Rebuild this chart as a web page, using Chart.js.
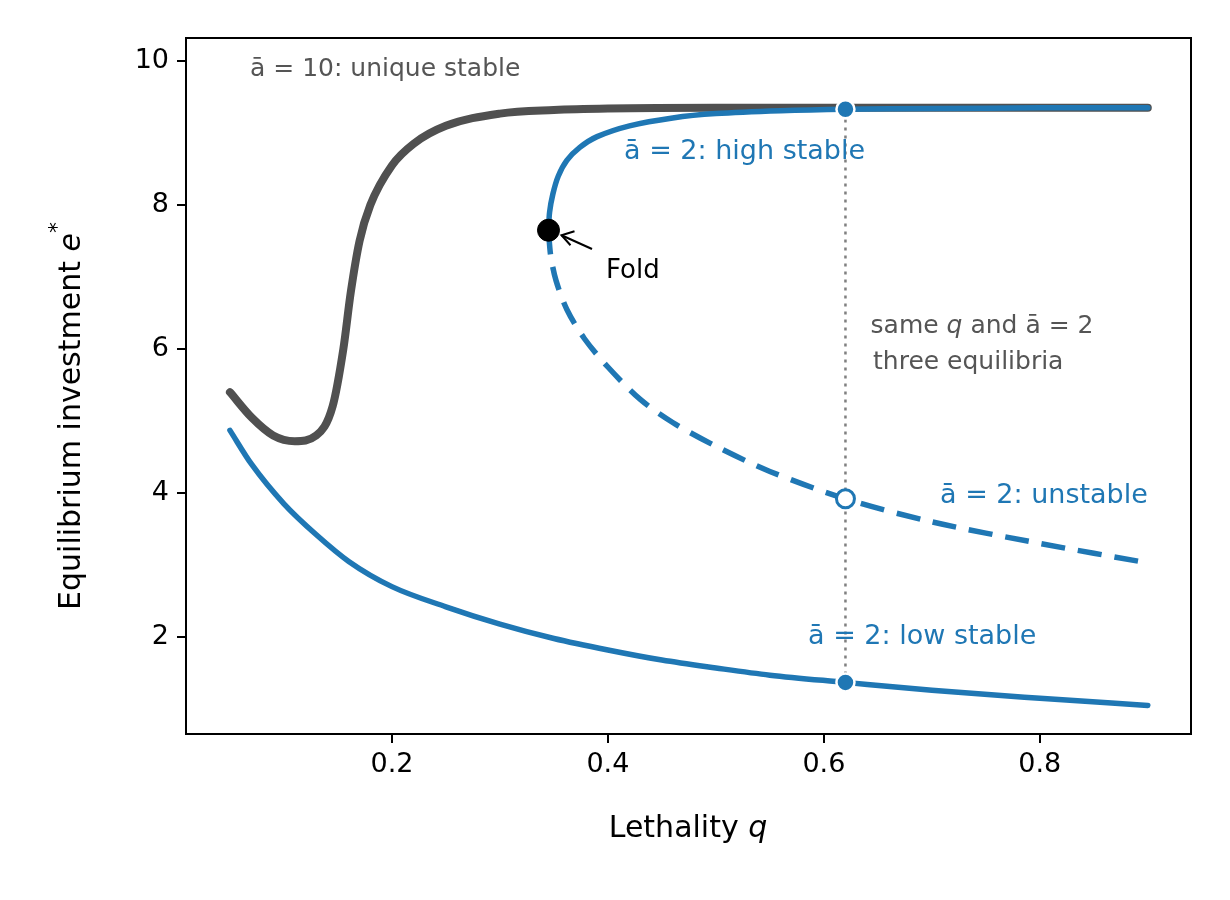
<!DOCTYPE html>
<html><head><meta charset="utf-8">
<script src="https://cdn.jsdelivr.net/npm/chart.js@4.4.1/dist/chart.umd.min.js"></script>
<style>html,body{margin:0;background:#fff}#wrap{width:1230px;height:900px}</style>
</head><body><div id="wrap"><canvas id="c" width="1230" height="900"></canvas></div>
<script>
// a-bar = 10 branch (unique stable)
const q10 = [0.05,0.07,0.09,0.11,0.13,0.145,0.155,0.162,0.17,0.18,0.2,0.22,0.25,0.3,0.35,0.4,0.5,0.6,0.7,0.8,0.9];
const e10 = [5.4,5.05,4.8,4.72,4.8,5.2,6.0,6.8,7.5,8.0,8.55,8.85,9.1,9.27,9.32,9.34,9.35,9.35,9.35,9.35,9.35];
// a-bar = 2 low stable
const qLow = [0.05,0.07,0.1,0.13,0.16,0.2,0.25,0.3,0.35,0.4,0.45,0.5,0.55,0.62,0.7,0.8,0.9];
const eLow = [4.87,4.4,3.85,3.42,3.05,2.7,2.42,2.18,1.98,1.82,1.68,1.57,1.47,1.37,1.26,1.15,1.05];
// a-bar = 2 high stable (from fold upward)
const qHigh = [0.345,0.346,0.349,0.354,0.362,0.374,0.39,0.42,0.46,0.5,0.56,0.62,0.7,0.8,0.9];
const eHigh = [7.65,7.9,8.15,8.4,8.62,8.8,8.95,9.1,9.21,9.27,9.31,9.33,9.34,9.35,9.35];
// a-bar = 2 unstable (from fold downward)
const qUns = [0.345,0.347,0.352,0.362,0.378,0.4,0.43,0.46,0.5,0.55,0.62,0.7,0.8,0.9];
const eUns = [7.65,7.3,6.95,6.55,6.15,5.75,5.3,4.98,4.65,4.3,3.92,3.6,3.3,3.03];
const xTicks = [0.2,0.4,0.6,0.8];
const yTicks = [2,4,6,8,10];
const qMark = 0.62, markHigh = 9.33, markUns = 3.92, markLow = 1.37;
const fold = {x:0.345, y:7.65};

const BLUE = '#1f77b4', GREY = '#505050';
const pts = (xs, ys) => xs.map((x, i) => ({x, y: ys[i]}));

function mixed(ctx, parts, x, y) {
  // parts: [text, font]; drawn left to right, centred on x
  let w = 0;
  parts.forEach(p => { ctx.font = p[1]; w += ctx.measureText(p[0]).width; });
  let cx = x - w / 2;
  ctx.textAlign = 'left';
  parts.forEach(p => { ctx.font = p[1]; ctx.fillText(p[0], cx, y + (p[2] || 0)); cx += ctx.measureText(p[0]).width; });
}

const overlay = {
  id: 'overlay',
  afterDatasetsDraw(chart) {
    const {ctx, chartArea: a, scales: {x, y}} = chart;
    ctx.save();
    ctx.strokeStyle = '#000'; ctx.lineWidth = 2;
    ctx.strokeRect(a.left, a.top, a.right - a.left, a.bottom - a.top);
    const fx = x.getPixelForValue(fold.x), fy = y.getPixelForValue(fold.y);
    ctx.beginPath(); ctx.moveTo(592, 249); ctx.lineTo(fx + 13, fy + 5); ctx.stroke();
    ctx.beginPath(); ctx.moveTo(fx + 26, fy + 1); ctx.lineTo(fx + 13, fy + 5); ctx.lineTo(fx + 22, fy + 15); ctx.stroke();
    ctx.textBaseline = 'middle';
    const R = '"DejaVu Sans"';
    ctx.fillStyle = '#555';
    ctx.textAlign = 'left';
    ctx.font = '25px ' + R;
    ctx.fillText('ā = 10: unique stable', 250, 69);
    ctx.fillText('three equilibria', 873, 362);
    mixed(ctx, [['same ', '25px ' + R], ['q', 'italic 25px ' + R], [' and ā = 2', '25px ' + R]], 982, 326);
    ctx.fillStyle = BLUE;
    ctx.textAlign = 'left';
    ctx.font = '27px ' + R;
    ctx.fillText('ā = 2: high stable', 624, 152);
    ctx.fillText('ā = 2: unstable', 940, 496);
    ctx.fillText('ā = 2: low stable', 808, 637);
    ctx.fillStyle = '#000';
    ctx.font = '26px ' + R;
    ctx.fillText('Fold', 606, 271);
    mixed(ctx, [['Lethality ', '30px ' + R], ['q', 'italic 30px ' + R]], 688, 829);
    ctx.translate(72, 416); ctx.rotate(-Math.PI / 2);
    mixed(ctx, [['Equilibrium investment ', '30px ' + R], ['e', 'italic 30px ' + R], ['*', '22px ' + R, -14]], 0, 0);
    ctx.restore();
  }
};

new Chart(document.getElementById('c'), {
  type: 'scatter',
  data: { datasets: [
    { order: 9, data: [{x: qMark, y: markLow}, {x: qMark, y: markHigh}], showLine: true, borderColor: '#808080', borderWidth: 2.5, borderDash: [3, 5], pointRadius: 0 },
    { order: 8, data: pts(q10, e10), showLine: true, borderColor: GREY, borderWidth: 8, pointRadius: 0, cubicInterpolationMode: 'monotone', borderCapStyle: 'round' },
    { order: 7, data: pts(qLow, eLow), showLine: true, borderColor: BLUE, borderWidth: 5.5, pointRadius: 0, cubicInterpolationMode: 'monotone', borderCapStyle: 'round' },
    { order: 6, data: pts(qHigh, eHigh), showLine: true, borderColor: BLUE, borderWidth: 5.5, pointRadius: 0, tension: 0.3, borderCapStyle: 'round' },
    { order: 5, data: pts(qUns, eUns), showLine: true, borderColor: BLUE, borderWidth: 5.5, borderDash: [24, 13], pointRadius: 0, tension: 0.3 },
    { order: 2, data: [{x: qMark, y: markHigh}, {x: qMark, y: markLow}], pointRadius: 9, pointBackgroundColor: BLUE, pointBorderColor: '#fff', pointBorderWidth: 2.5 },
    { order: 1, data: [{x: qMark, y: markUns}], pointRadius: 9, pointBackgroundColor: '#fff', pointBorderColor: BLUE, pointBorderWidth: 3 },
    { order: 0, data: [fold], pointRadius: 11, pointBackgroundColor: '#000', pointBorderColor: '#000' }
  ]},
  options: {
    responsive: false, animation: false, devicePixelRatio: 1,
    layout: { padding: { left: 0, top: 38, right: 39, bottom: 0 } },
    plugins: { legend: { display: false }, tooltip: { enabled: false } },
    scales: {
      x: { type: 'linear', min: 0.0093, max: 0.94,
        afterBuildTicks: s => { s.ticks = xTicks.map(v => ({value: v})); },
        afterFit: s => { s.height = 166; },
        grid: { drawOnChartArea: false, tickLength: 9, color: '#000', lineWidth: 2 },
        border: { display: false },
        ticks: { color: '#000', font: { family: 'DejaVu Sans', size: 27 }, padding: 6, callback: v => v.toFixed(1) } },
      y: { type: 'linear', min: 0.653, max: 10.32,
        afterBuildTicks: s => { s.ticks = yTicks.map(v => ({value: v})); },
        afterFit: s => { s.width = 186; },
        grid: { drawOnChartArea: false, tickLength: 9, color: '#000', lineWidth: 2 },
        border: { display: false },
        ticks: { color: '#000', font: { family: 'DejaVu Sans', size: 27 }, padding: 8 } }
    }
  },
  plugins: [overlay]
});
</script></body></html>
